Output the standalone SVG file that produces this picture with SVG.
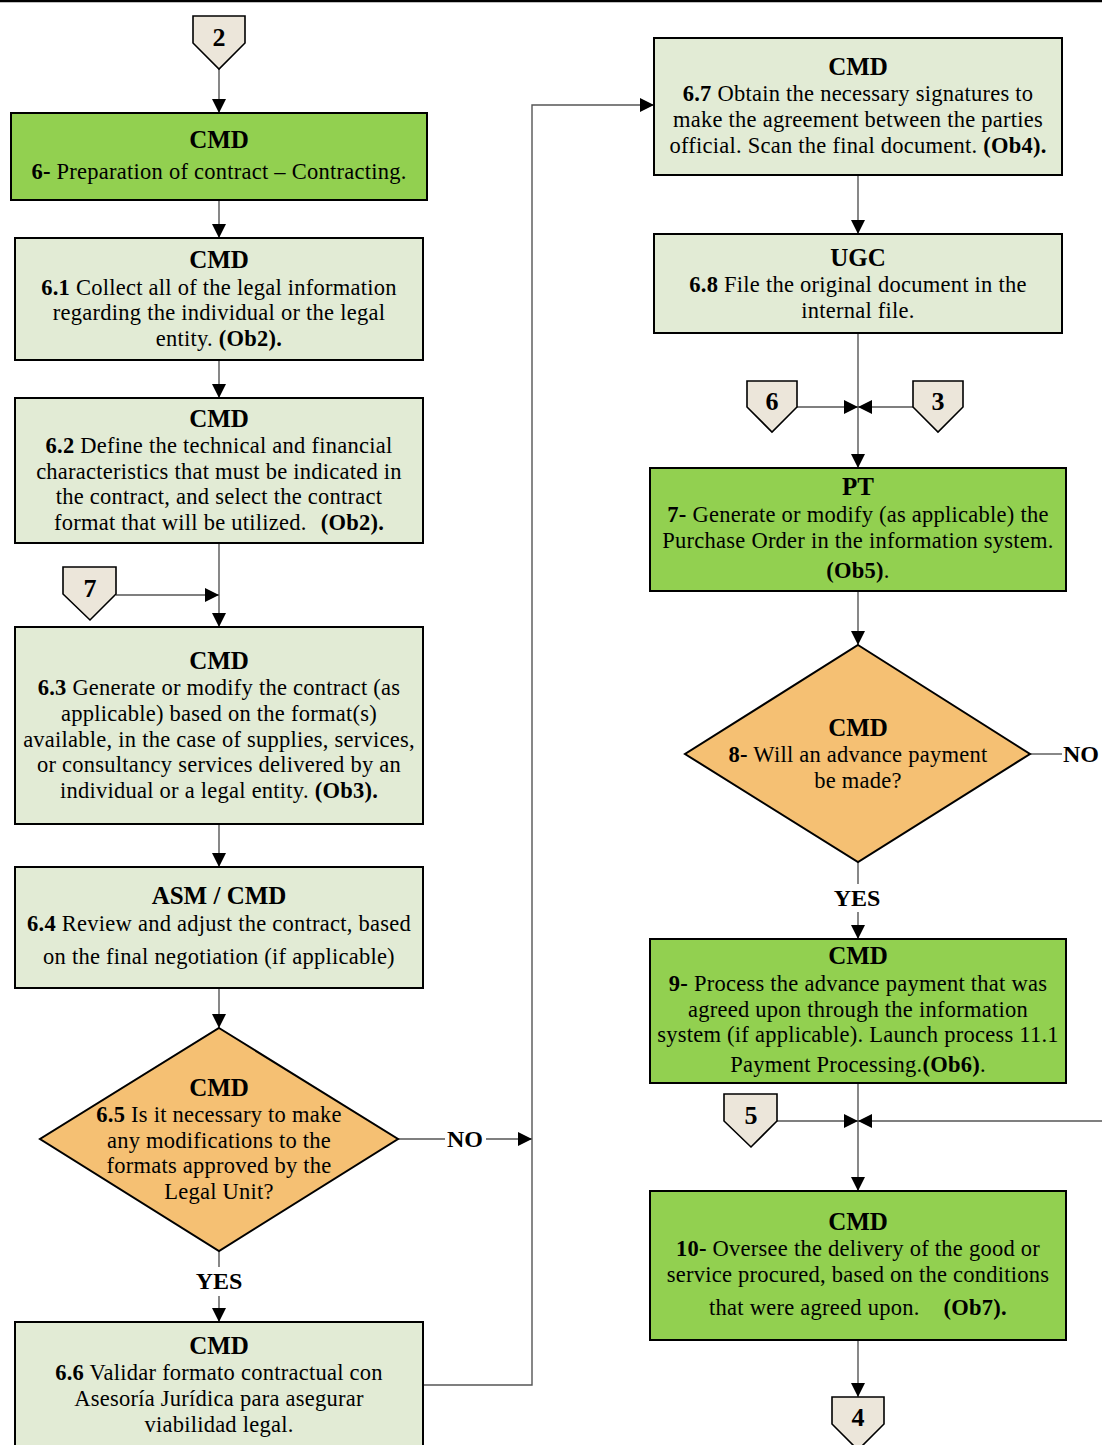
<svg xmlns="http://www.w3.org/2000/svg" width="1102" height="1445" viewBox="0 0 1102 1445">
  <defs>
    <marker id="arrow" viewBox="0 0 14 14" refX="14" refY="7" markerWidth="14" markerHeight="14" markerUnits="userSpaceOnUse" orient="auto">
      <path d="M0,0 L14,7 L0,14 Z" fill="#000"/>
    </marker>
    <style>
      .green { fill: #92d050; stroke: #000; stroke-width: 2; }
      .light { fill: #e2ebd5; stroke: #000; stroke-width: 2; }
      .dec { fill: #f5c073; stroke: #000; stroke-width: 2; }
      .conn { fill: #ece6da; stroke: #000; stroke-width: 1.6; }
      .edge { fill: none; stroke: #555; stroke-width: 1.4; }
      .edge-a { fill: none; stroke: #555; stroke-width: 1.4; marker-end: url(#arrow); }
      text { font-family: "Liberation Serif", "DejaVu Serif", serif; font-size: 22.5px; letter-spacing: 0.25px; fill: #000; text-anchor: middle; }
      .h { font-weight: bold; font-size: 25px; letter-spacing: 0; }
      .b { font-weight: bold; }
      .n { font-weight: bold; font-size: 26px; letter-spacing: 0; }
      .lbl { font-weight: bold; font-size: 24px; letter-spacing: 0; }
    </style>
  </defs>

  <rect width="1102" height="1445" fill="#fff"/>
  <line x1="0" y1="1" x2="1102" y2="1" stroke="#000" stroke-width="2.5"/>

  <!-- connectors -->
  <g id="edges">
    <path class="edge-a" d="M219,69 V113"/>
    <path class="edge-a" d="M219,200 V238"/>
    <path class="edge-a" d="M219,360 V398"/>
    <path class="edge-a" d="M219,543 V627"/>
    <path class="edge-a" d="M116,595 H219"/>
    <path class="edge-a" d="M219,824 V867"/>
    <path class="edge-a" d="M219,988 V1028"/>
    <path class="edge" d="M219,1251 V1267"/>
    <path class="edge-a" d="M219,1296 V1322"/>
    <path class="edge" d="M398,1139 H445"/>
    <path class="edge-a" d="M486,1139 H532"/>
    <path class="edge-a" d="M423,1385 H532 V105 H654"/>
    <path class="edge-a" d="M858,175 V234"/>
    <path class="edge-a" d="M858,333 V468"/>
    <path class="edge-a" d="M797,407 H858"/>
    <path class="edge-a" d="M913,407 H858"/>
    <path class="edge-a" d="M858,591 V645"/>
    <path class="edge" d="M1030,754 H1062"/>
    <path class="edge" d="M858,862 V884"/>
    <path class="edge-a" d="M858,912 V939"/>
    <path class="edge-a" d="M858,1083 V1191"/>
    <path class="edge-a" d="M777,1121 H858"/>
    <path class="edge-a" d="M1102,1121 H858"/>
    <path class="edge-a" d="M858,1340 V1397"/>
    <text x="465" y="1147" class="lbl">NO</text>
    <text x="1063" y="762" class="lbl" style="text-anchor:start">NO</text>
    <text x="219" y="1289" class="lbl">YES</text>
    <text x="857" y="906" class="lbl">YES</text>
  </g>

  <!-- off-page connectors -->
  <g id="c2">
    <path class="conn" d="M193,16 H245 V43 L219,69 L193,43 Z"/>
    <text x="219" y="46" class="n">2</text>
  </g>
  <g id="c7">
    <path class="conn" d="M63,567 H116 V594 L90,620 L63,594 Z"/>
    <text x="90" y="597" class="n">7</text>
  </g>
  <g id="c6">
    <path class="conn" d="M747,381 H797 V407 L772,432 L747,407 Z"/>
    <text x="772" y="410" class="n">6</text>
  </g>
  <g id="c3">
    <path class="conn" d="M913,381 H963 V407 L938,432 L913,407 Z"/>
    <text x="938" y="410" class="n">3</text>
  </g>
  <g id="c5">
    <path class="conn" d="M724,1094 H777 V1121 L751,1147 L724,1121 Z"/>
    <text x="751" y="1124" class="n">5</text>
  </g>
  <g id="c4">
    <path class="conn" d="M832,1397 H884 V1424 L858,1450 L832,1424 Z"/>
    <text x="858" y="1426" class="n">4</text>
  </g>

  <!-- left column -->
  <g id="n6">
    <rect class="green" x="11" y="113" width="416" height="87"/>
    <text x="219" y="148" class="h">CMD</text>
    <text x="219" y="179"><tspan class="b">6-</tspan> Preparation of contract – Contracting.</text>
  </g>
  <g id="n6_1">
    <rect class="light" x="15" y="238" width="408" height="122"/>
    <text x="219" y="268" class="h">CMD</text>
    <text x="219" y="295"><tspan class="b">6.1</tspan> Collect all of the legal information</text>
    <text x="219" y="320">regarding the individual or the legal</text>
    <text x="219" y="346">entity. <tspan class="b">(Ob2).</tspan></text>
  </g>
  <g id="n6_2">
    <rect class="light" x="15" y="398" width="408" height="145"/>
    <text x="219" y="427" class="h">CMD</text>
    <text x="219" y="453"><tspan class="b">6.2</tspan> Define the technical and financial</text>
    <text x="219" y="479">characteristics that must be indicated in</text>
    <text x="219" y="504">the contract, and select the contract</text>
    <text x="219" y="530">format that will be utilized.<tspan class="b" dx="14">(Ob2).</tspan></text>
  </g>
  <g id="n6_3">
    <rect class="light" x="15" y="627" width="408" height="197"/>
    <text x="219" y="669" class="h">CMD</text>
    <text x="219" y="695"><tspan class="b">6.3</tspan> Generate or modify the contract (as</text>
    <text x="219" y="721">applicable) based on the format(s)</text>
    <text x="219" y="747">available, in the case of supplies, services,</text>
    <text x="219" y="772">or consultancy services delivered by an</text>
    <text x="219" y="798">individual or a legal entity. <tspan class="b">(Ob3).</tspan></text>
  </g>
  <g id="n6_4">
    <rect class="light" x="15" y="867" width="408" height="121"/>
    <text x="219" y="904" class="h">ASM / CMD</text>
    <text x="219" y="931"><tspan class="b">6.4</tspan> Review and adjust the contract, based</text>
    <text x="219" y="964">on the final negotiation (if applicable)</text>
  </g>
  <g id="n6_5">
    <path class="dec" d="M219,1028 L398,1139 L219,1251 L40,1139 Z"/>
    <text x="219" y="1096" class="h">CMD</text>
    <text x="219" y="1122"><tspan class="b">6.5</tspan> Is it necessary to make</text>
    <text x="219" y="1148">any modifications to the</text>
    <text x="219" y="1173">formats approved by the</text>
    <text x="219" y="1199">Legal Unit?</text>
  </g>
  <g id="n6_6">
    <rect class="light" x="15" y="1322" width="408" height="130"/>
    <text x="219" y="1354" class="h">CMD</text>
    <text x="219" y="1380"><tspan class="b">6.6</tspan> Validar formato contractual con</text>
    <text x="219" y="1406">Asesoría Jurídica para asegurar</text>
    <text x="219" y="1432">viabilidad legal.</text>
  </g>

  <!-- right column -->
  <g id="n6_7">
    <rect class="light" x="654" y="38" width="408" height="137"/>
    <text x="858" y="75" class="h">CMD</text>
    <text x="858" y="101"><tspan class="b">6.7</tspan> Obtain the necessary signatures to</text>
    <text x="858" y="127">make the agreement between the parties</text>
    <text x="858" y="153">official. Scan the final document. <tspan class="b">(Ob4).</tspan></text>
  </g>
  <g id="n6_8">
    <rect class="light" x="654" y="234" width="408" height="99"/>
    <text x="858" y="266" class="h">UGC</text>
    <text x="858" y="292"><tspan class="b">6.8</tspan> File the original document in the</text>
    <text x="858" y="318">internal file.</text>
  </g>
  <g id="n7">
    <rect class="green" x="650" y="468" width="416" height="123"/>
    <text x="858" y="495" class="h">PT</text>
    <text x="858" y="522"><tspan class="b">7-</tspan> Generate or modify (as applicable) the</text>
    <text x="858" y="548">Purchase Order in the information system.</text>
    <text x="858" y="578"><tspan class="b">(Ob5)</tspan>.</text>
  </g>
  <g id="n8">
    <path class="dec" d="M858,645 L1030,754 L858,862 L685,754 Z"/>
    <text x="858" y="736" class="h">CMD</text>
    <text x="858" y="762"><tspan class="b">8-</tspan> Will an advance payment</text>
    <text x="858" y="788">be made?</text>
  </g>
  <g id="n9">
    <rect class="green" x="650" y="939" width="416" height="144"/>
    <text x="858" y="964" class="h">CMD</text>
    <text x="858" y="991"><tspan class="b">9-</tspan> Process the advance payment that was</text>
    <text x="858" y="1017">agreed upon through the information</text>
    <text x="858" y="1042">system (if applicable). Launch process 11.1</text>
    <text x="858" y="1072">Payment Processing.<tspan class="b">(Ob6)</tspan>.</text>
  </g>
  <g id="n10">
    <rect class="green" x="650" y="1191" width="416" height="149"/>
    <text x="858" y="1230" class="h">CMD</text>
    <text x="858" y="1256"><tspan class="b">10-</tspan> Oversee the delivery of the good or</text>
    <text x="858" y="1282">service procured, based on the conditions</text>
    <text x="858" y="1315">that were agreed upon.<tspan class="b" dx="24">(Ob7).</tspan></text>
  </g>
</svg>
